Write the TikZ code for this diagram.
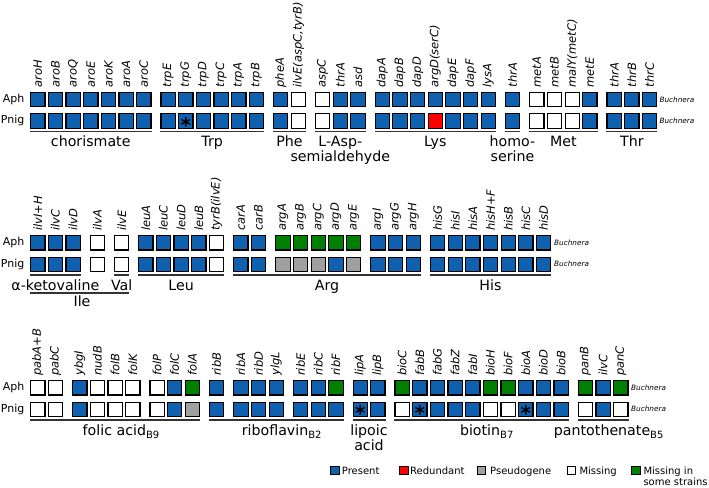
\documentclass[tikz,border=0pt]{standalone}
\usepackage{fontspec}
\setmainfont{DejaVu Sans}
\definecolor{pres}{HTML}{1060B0}
\definecolor{redun}{HTML}{FF0000}
\definecolor{pseudo}{HTML}{A0A0A0}
\definecolor{miss}{HTML}{FFFFFF}
\definecolor{mss}{HTML}{008000}
\definecolor{catline}{HTML}{333333}
\tikzset{
  gsq/.style={draw=black, line width=1.2pt, minimum size=14.3pt, inner sep=0pt, outer sep=0pt},
  glab/.style={rotate=90, anchor=west, inner sep=0pt, font=\fontsize{11.5}{13}\selectfont\itshape},
  rlab/.style={anchor=east, inner sep=0pt, font=\fontsize{11}{13}\selectfont},
  buch/.style={anchor=west, inner sep=0pt, font=\fontsize{7.3}{9}\selectfont\itshape},
  catl/.style={line width=1.8pt, draw=catline},
  clab/.style={anchor=base, inner sep=0pt, font=\fontsize{14.2}{17}\selectfont},
  lsq/.style={draw=black, line width=0.8pt, minimum size=8.5pt, inner sep=0pt},
  ltxt/.style={anchor=base west, inner sep=0pt, font=\fontsize{10}{12}\selectfont},
  starx/.style={anchor=base, inner sep=0pt, font=\fontsize{20}{20}\selectfont\bfseries}
}
\newcommand\drawgenerow[3]{%
  \foreach \x/\g/\a/\p [count=\i] in {#3} {
    \node[gsq, fill=\a] (#1a\i) at (\x+7.75, #2+7.75) {};
    \node[gsq, fill=\p] (#1p\i) at (\x+7.75, #2+29.25) {};
    \node[glab] (#1g\i) at (\x+7.75, #2-4) {\g};
  }}
\newcommand\sub[1]{{\fontsize{10}{10}\selectfont\raisebox{-2.5pt}{#1}}}
\begin{document}
\begin{tikzpicture}[x=1pt,y=-1pt]
\useasboundingbox (0,0) rectangle (709,487);
% ---------------- row 1
\drawgenerow{ra}{91.7}{30.0/aroH/pres/pres, 47.7/aroB/pres/pres, 65.3/aroQ/pres/pres, 83.0/aroE/pres/pres, 100.7/aroK/pres/pres, 118.3/aroA/pres/pres, 136.0/aroC/pres/pres,
160.3/trpE/pres/pres, 178.0/trpG/pres/pres, 195.6/trpD/pres/pres, 213.3/trpC/pres/pres, 231.0/trpA/pres/pres, 248.6/trpB/pres/pres,
272.9/pheA/pres/pres, 290.6/{ilvE(aspC,tyrB)}/miss/miss,
314.9/aspC/miss/miss, 332.6/thrA/pres/pres, 350.2/asd/pres/pres,
374.5/dapA/pres/pres, 392.2/dapB/pres/pres, 409.9/dapD/pres/pres, 427.5/argD(serC)/pres/redun, 445.2/dapE/pres/pres, 462.9/dapF/pres/pres, 480.5/lysA/pres/pres,
504.8/thrA/pres/pres,
529.1/metA/miss/miss, 546.8/metB/miss/miss, 564.5/malY(metC)/miss/miss, 582.1/metE/pres/pres,
606.4/thrA/pres/pres, 624.1/thrB/pres/pres, 641.8/thrC/pres/pres}
\node[rlab] (ra-aph) at (24.5,99.45) {Aph};
\node[rlab] (ra-pnig) at (24.5,120.95) {Pnig};
\node[buch] (ra-b1) at (659.3,99.45) {Buchnera};
\node[buch] (ra-b2) at (659.3,120.95) {Buchnera};
\node[starx] (st1) at (185.75,132.0) {*};
\draw[catl] (30,131.5) -- (151.5,131.5);
\draw[catl] (160.3,131.5) -- (264.1,131.5);
\draw[catl] (272.9,131.5) -- (306.1,131.5);
\draw[catl] (314.9,131.5) -- (365.7,131.5);
\draw[catl] (374.5,131.5) -- (496.0,131.5);
\draw[catl] (504.8,131.5) -- (520.3,131.5);
\draw[catl] (529.1,131.5) -- (597.6,131.5);
\draw[catl] (606.4,131.5) -- (657.3,131.5);
\node[clab] (c1) at (90.75,146.7) {chorismate};
\node[clab] (c2) at (212.2,146.7) {Trp};
\node[clab] (c3) at (289.5,146.7) {Phe};
\node[clab] (c4) at (340.3,146.7) {L-Asp-};
\node[clab] (c4b) at (340.3,161.7) {semialdehyde};
\node[clab] (c5) at (435.3,146.7) {Lys};
\node[clab] (c6) at (512.5,146.7) {homo-};
\node[clab] (c6b) at (512.5,161.7) {serine};
\node[clab] (c7) at (563.4,146.7) {Met};
\node[clab] (c8) at (631.9,146.7) {Thr};
% ---------------- row 2
\drawgenerow{rb}{235}{30.0/ilvI+H/pres/pres, 47.7/ilvC/pres/pres, 65.3/ilvD/pres/pres,
89.6/ilvA/miss/miss,
113.9/ilvE/miss/miss,
138.0/leuA/pres/pres, 155.7/leuC/pres/pres, 173.3/leuD/pres/pres, 191.0/leuB/pres/pres, 208.7/tyrB(ilvE)/miss/miss,
233.0/carA/pres/pres, 250.7/carB/pres/pres,
275.2/argA/mss/pseudo, 292.9/argB/mss/pseudo, 310.5/argC/mss/pseudo, 328.2/argD/mss/pres, 345.9/argE/mss/pseudo,
370.2/argI/pres/pres, 387.8/argG/pres/pres, 405.5/argH/pres/pres,
429.8/hisG/pres/pres, 447.5/hisI/pres/pres, 465.1/hisA/pres/pres, 482.8/hisH+F/pres/pres, 500.5/hisB/pres/pres, 518.1/hisC/pres/pres, 535.8/hisD/pres/pres}
\node[rlab] (rb-aph) at (24.5,242.75) {Aph};
\node[rlab] (rb-pnig) at (24.5,264.25) {Pnig};
\node[buch] (rb-b1) at (554,242.75) {Buchnera};
\node[buch] (rb-b2) at (554,264.25) {Buchnera};
\draw[catl] (30,274.8) -- (80.8,274.8);
\draw[catl] (113.9,274.8) -- (129.4,274.8);
\draw[catl] (30,293.2) -- (129.4,293.2);
\draw[catl] (138.0,274.8) -- (224.2,274.8);
\draw[catl] (233.0,274.8) -- (421.0,274.8);
\draw[catl] (429.8,274.8) -- (551.3,274.8);
\node[clab] (d1) at (55.4,290.6) {α-ketovaline};
\node[clab] (d2) at (121.7,290.6) {Val};
\node[clab] (d3) at (82,306.3) {Ile};
\node[clab] (d4) at (181.1,290.6) {Leu};
\node[clab] (d5) at (327.0,290.6) {Arg};
\node[clab] (d6) at (490.5,290.6) {His};
% ---------------- row 3
\drawgenerow{rc}{380}{30.0/pabA+B/miss/miss, 47.7/pabC/miss/miss,
72.0/ybgI/pres/pres, 89.6/nudB/miss/miss, 107.3/folB/miss/miss, 125.0/folK/miss/miss,
149.3/folP/miss/miss, 166.9/folC/pres/pres, 184.6/folA/mss/pseudo,
208.9/ribB/pres/pres,
233.2/ribA/pres/pres, 250.9/ribD/pres/pres, 268.5/ylgL/pres/pres,
292.8/ribE/pres/pres, 310.5/ribC/pres/pres, 328.2/ribF/mss/pres,
352.5/lipA/pres/pres, 370.1/lipB/pres/pres,
394.4/bioC/mss/miss, 412.1/fabB/pres/pres, 429.7/fabG/pres/pres, 447.4/fabZ/pres/pres, 465.1/fabI/pres/pres, 482.7/bioH/mss/miss, 500.4/bioF/mss/miss, 518.1/bioA/pres/pres, 535.7/bioD/pres/pres, 553.4/bioB/pres/pres,
577.7/panB/mss/miss, 595.4/ilvC/pres/pres, 613.0/panC/mss/miss}
\node[rlab] (rc-aph) at (24.5,387.75) {Aph};
\node[rlab] (rc-pnig) at (24.5,409.25) {Pnig};
\node[buch] (rc-b1) at (631,387.75) {Buchnera};
\node[buch] (rc-b2) at (631,409.25) {Buchnera};
\node[starx] (st2) at (360.25,420.3) {*};
\node[starx] (st3) at (419.85,420.3) {*};
\node[starx] (st4) at (525.85,420.3) {*};
\draw[catl] (30,419.8) -- (200.1,419.8);
\draw[catl] (208.9,419.8) -- (343.7,419.8);
\draw[catl] (352.5,419.8) -- (385.6,419.8);
\draw[catl] (394.4,419.8) -- (568.9,419.8);
\draw[catl] (577.7,419.8) -- (628.5,419.8);
\node[clab] (e1) at (121,435.6) {folic acid\sub{B9}};
\node[clab] (e2) at (281.7,435.6) {riboflavin\sub{B2}};
\node[clab] (e3) at (369,435.6) {lipoic};
\node[clab] (e3b) at (369,450.6) {acid};
\node[clab] (e4) at (486.7,435.6) {biotin\sub{B7}};
\node[clab] (e5) at (608.7,435.6) {pantothenate\sub{B5}};
% ---------------- legend
\node[lsq, fill=pres] (lg1) at (334.65,470.5) {};
\node[ltxt] (lt1) at (341.7,474.3) {Present};
\node[lsq, fill=redun] (lg2) at (403.65,470.5) {};
\node[ltxt] (lt2) at (410,474.3) {Redundant};
\node[lsq, fill=pseudo] (lg3) at (481.35,470.5) {};
\node[ltxt] (lt3) at (490,474.3) {Pseudogene};
\node[lsq, fill=miss] (lg4) at (571.35,470.5) {};
\node[ltxt] (lt4) at (579.3,474.3) {Missing};
\node[lsq, fill=mss] (lg5) at (635.65,470.5) {};
\node[ltxt] (lt5) at (643.3,474.3) {Missing in};
\node[ltxt] (lt5b) at (643.3,485.8) {some strains};
\end{tikzpicture}
\end{document}
